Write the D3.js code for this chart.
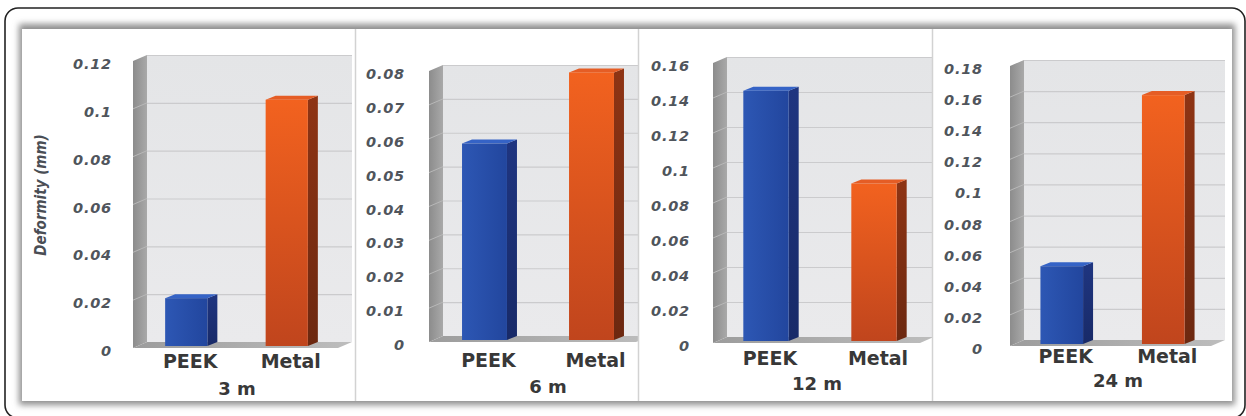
<!DOCTYPE html>
<html>
<head>
<meta charset="utf-8">
<script src="https://cdn.jsdelivr.net/npm/d3@7"></script>
<style>
  html, body { margin: 0; padding: 0; background: #fff; }
  svg { display: block; }
</style>
</head>
<body>
<script>
// Deformity (mm) of PEEK vs metal at four follow-up times
const periods = ["3 m", "6 m", "12 m", "24 m"];
const materials = ["PEEK", "Metal"];
const peekValues = [0.02, 0.058, 0.143, 0.05];
const metalValues = [0.103, 0.079, 0.09, 0.16];
const axisMax = [0.12, 0.08, 0.16, 0.18];
const tickCounts = [6, 8, 8, 9];
const yTitle = "Deformity (mm)";

// Panel layout (pixel geometry of each small 3D column chart)
const layout = [
  { left: 22,  right: 355,  wallX: 147,  wallRight: 352,  yTop: 55, yFloor: 342, labelX: 112, xr: [136, 337],  catY: 368, subX: 237,  subY: 395 },
  { left: 355, right: 638,  wallX: 443,  wallRight: 650,  yTop: 65, yFloor: 336, labelX: 405, xr: [431, 645],  catY: 367, subX: 548,  subY: 393 },
  { left: 638, right: 932,  wallX: 727,  wallRight: 934,  yTop: 57, yFloor: 337, labelX: 690, xr: [712, 928],  catY: 365, subX: 817,  subY: 390 },
  { left: 932, right: 1232, wallX: 1024, wallRight: 1225, yTop: 60, yFloor: 340, labelX: 983, xr: [1011, 1214], catY: 363, subX: 1118, subY: 387 }
];
const DX = 14, DY = 6;      // depth of the side wall / floor
const BX = 10, BY = 4;      // depth of each column

const W = 1246, H = 416;
const svg = d3.select("body").append("svg").attr("width", W).attr("height", H);
const defs = svg.append("defs");

const shadow = defs.append("filter").attr("id", "shadow")
  .attr("x", "-5%").attr("y", "-5%").attr("width", "110%").attr("height", "110%");
shadow.append("feGaussianBlur").attr("stdDeviation", 3);

function linGrad(id, x2, y2, stops) {
  const g = defs.append("linearGradient").attr("id", id)
    .attr("x1", 0).attr("y1", 0).attr("x2", x2).attr("y2", y2);
  stops.forEach(([o, c]) => g.append("stop").attr("offset", o).attr("stop-color", c));
}
linGrad("sideWall", 1, 0, [[0, "#8c8c8c"], [1, "#a9a9a9"]]);
linGrad("floor", 1, 0, [[0, "#9c9c9c"], [1, "#bdbdbd"]]);
linGrad("backWall", 0, 1, [[0, "#e4e5e7"], [1, "#eaeaec"]]);
linGrad("blueFront", 1, 0, [[0, "#2d57b4"], [1, "#22469e"]]);
linGrad("blueSide", 0, 1, [[0, "#1f3580"], [1, "#182a68"]]);
linGrad("orangeFront", 0, 1, [[0, "#f2621f"], [1, "#c0451d"]]);
linGrad("orangeSide", 0, 1, [[0, "#8e3414"], [1, "#6c2810"]]);

// Outer rounded frame
svg.append("rect").attr("x", 5).attr("y", 8).attr("width", 1240).attr("height", 410)
  .attr("rx", 13).attr("fill", "#fff").attr("stroke", "#222").attr("stroke-width", 1.6);

// Inner card with soft shadow
svg.append("rect").attr("x", 19).attr("y", 24).attr("width", 1216).attr("height", 381)
  .attr("fill", "#8e8e8e").attr("filter", "url(#shadow)");
svg.append("rect").attr("x", 22).attr("y", 29).attr("width", 1210).attr("height", 372)
  .attr("fill", "#fff");

const fmt = d => String(+d.toFixed(2));

layout.forEach((p, i) => {
  defs.append("clipPath").attr("id", "clip" + i)
    .append("rect").attr("x", p.left).attr("y", 29).attr("width", p.right - p.left).attr("height", 372);
  const g = svg.append("g").attr("clip-path", `url(#clip${i})`);

  const y = d3.scaleLinear().domain([0, axisMax[i]]).range([p.yFloor, p.yTop]);
  const x = d3.scaleBand().domain(materials).range(p.xr).paddingInner(0.58).paddingOuter(0.29);
  const ticks = y.ticks(tickCounts[i]);

  // back wall and gridlines
  g.append("rect").attr("x", p.wallX).attr("y", p.yTop)
    .attr("width", p.wallRight - p.wallX).attr("height", p.yFloor - p.yTop)
    .attr("fill", "url(#backWall)");
  g.selectAll(".grid").data(ticks.filter(t => t > 0)).join("line")
    .attr("x1", p.wallX).attr("x2", p.wallRight)
    .attr("y1", d => y(d) + 0.5).attr("y2", d => y(d) + 0.5)
    .attr("stroke", "#cbcbcd").attr("stroke-width", 1.2);

  // side wall
  g.append("path")
    .attr("d", `M${p.wallX - DX},${p.yTop + DY} L${p.wallX},${p.yTop} L${p.wallX},${p.yFloor} L${p.wallX - DX},${p.yFloor + DY} Z`)
    .attr("fill", "url(#sideWall)");
  g.selectAll(".sgrid").data(ticks.filter(t => t > 0 && t < axisMax[i])).join("line")
    .attr("x1", p.wallX - DX).attr("x2", p.wallX)
    .attr("y1", d => y(d) + DY).attr("y2", d => y(d))
    .attr("stroke", "#b8b8b8").attr("stroke-width", 1);

  // floor
  g.append("path")
    .attr("d", `M${p.wallX - DX},${p.yFloor + DY} L${p.wallX},${p.yFloor} L${p.wallRight},${p.yFloor} L${p.wallRight - DX},${p.yFloor + DY} Z`)
    .attr("fill", "url(#floor)");

  // tick labels
  g.selectAll(".tick").data(ticks).join("text")
    .attr("x", p.labelX).attr("y", d => y(d) + 14)
    .attr("text-anchor", "end")
    .attr("font-family", "DejaVu Sans, sans-serif")
    .attr("font-style", "oblique").attr("font-weight", "bold")
    .attr("font-size", 14.5).attr("letter-spacing", 0.8)
    .attr("fill", "#50555c")
    .text(fmt);

  // columns
  const values = [peekValues[i], metalValues[i]];
  const colors = [
    { front: "url(#blueFront)", side: "url(#blueSide)", top: "#3563c6" },
    { front: "url(#orangeFront)", side: "url(#orangeSide)", top: "#e55d25" }
  ];
  materials.forEach((m, j) => {
    const x0 = x(m), x1 = x0 + x.bandwidth();
    const yt = y(values[j]) + BY, yb = p.yFloor + BY;
    const c = colors[j];
    // right side face
    g.append("path")
      .attr("d", `M${x1},${yt} L${x1 + BX},${yt - BY} L${x1 + BX},${yb - BY} L${x1},${yb} Z`)
      .attr("fill", c.side);
    // top face
    g.append("path")
      .attr("d", `M${x0},${yt} L${x0 + BX},${yt - BY} L${x1 + BX},${yt - BY} L${x1},${yt} Z`)
      .attr("fill", c.top);
    // front face
    g.append("rect").attr("x", x0).attr("y", yt).attr("width", x1 - x0).attr("height", yb - yt)
      .attr("fill", c.front);
  });

  // category labels
  g.selectAll(".cat").data(materials).join("text")
    .attr("x", d => x(d) + x.bandwidth() / 2 + 4).attr("y", p.catY)
    .attr("text-anchor", "middle")
    .attr("font-family", "DejaVu Sans, sans-serif").attr("font-weight", "bold")
    .attr("font-size", 19).attr("fill", "#383838")
    .text(d => d);

  // period label
  g.append("text").attr("x", p.subX).attr("y", p.subY)
    .attr("text-anchor", "middle")
    .attr("font-family", "DejaVu Sans, sans-serif").attr("font-weight", "bold")
    .attr("font-size", 18).attr("fill", "#383838")
    .text(periods[i]);

  // separator between panels
  if (i > 0) {
    svg.append("line").attr("x1", p.left + 0.5).attr("x2", p.left + 0.5)
      .attr("y1", 29).attr("y2", 401).attr("stroke", "#d2d2d2").attr("stroke-width", 1.5);
  }
});

// y-axis title on the first panel
svg.append("text")
  .attr("transform", "translate(46,195) rotate(-90)")
  .attr("text-anchor", "middle")
  .attr("font-family", "DejaVu Sans Condensed, DejaVu Sans, sans-serif")
  .attr("font-style", "oblique").attr("font-weight", "bold")
  .attr("font-size", 15).attr("fill", "#4a4e55")
  .text(yTitle);
</script>
</body>
</html>
